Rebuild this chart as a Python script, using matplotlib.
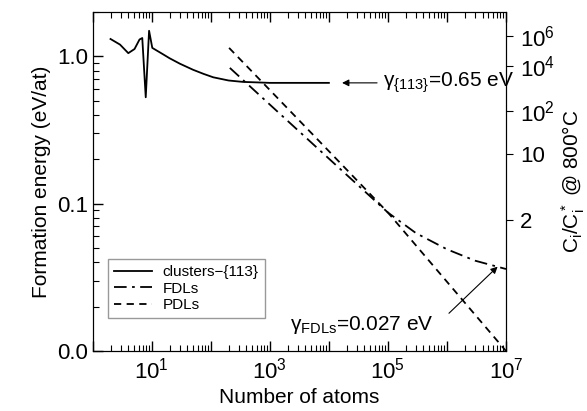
import matplotlib
matplotlib.use("Agg")
import matplotlib.pyplot as plt
from matplotlib.ticker import FixedLocator, FixedFormatter, LogLocator, NullFormatter

plt.rcParams["font.family"] = ["Liberation Sans", "DejaVu Sans"]
plt.rcParams["mathtext.fontset"] = "custom"
plt.rcParams["mathtext.rm"] = "Liberation Sans"
plt.rcParams["mathtext.it"] = "Liberation Sans:italic"

# clusters-{113}
n_clusters = [2.0, 2.9, 4.0, 5.1, 6.2, 6.9, 7.9, 9.0, 10.2, 15, 20, 30, 50, 75, 110, 200, 350, 600, 1000, 3000, 10000]
e_clusters = [1.31, 1.20, 1.05, 1.12, 1.30, 1.33, 0.527, 1.49, 1.14, 1.04, 0.97, 0.89, 0.81, 0.76, 0.72, 0.685, 0.67, 0.665, 0.66, 0.66, 0.66]

# FDLs
n_fdl = [210, 1e3, 1e4, 1e5, 3e5, 1e6, 3e6, 1e7]
e_fdl = [0.834, 0.47, 0.202, 0.087, 0.063, 0.049, 0.041, 0.036]

# PDLs
n_pdl = [204, 1e3, 1e4, 1e5, 1e6, 1e7]
e_pdl = [1.14, 0.59, 0.227, 0.087, 0.0295, 0.010]

# right axis: C_i/C_i* at 800C
rt_pos = [1.367, 0.865, 0.428, 0.2184, 0.0779]
rt_lab = [r"$\mathregular{10^6}$", r"$\mathregular{10^4}$", r"$\mathregular{10^2}$", "10", "2"]

fig = plt.figure(figsize=(5.87, 4.11), dpi=100)
ax = fig.add_axes([0.158, 0.146, 0.704, 0.825])

ax.plot(n_clusters, e_clusters, color="black", lw=1.3, label="clusters\u2212{113}")
ax.plot(n_fdl, e_fdl, color="black", lw=1.3, dashes=(7, 3, 1.5, 3), label="FDLs")
ax.plot(n_pdl, e_pdl, color="black", lw=1.3, dashes=(4, 3), label="PDLs")

ax.set_xscale("log")
ax.set_yscale("log")
ax.set_xlim(1, 1e7)
ax.set_ylim(0.01, 2.0)

ax.xaxis.set_major_locator(FixedLocator([10.0**k for k in range(0, 8)]))
ax.xaxis.set_major_formatter(FixedFormatter(["", r"$\mathregular{10^1}$", "", r"$\mathregular{10^3}$", "",
                                             r"$\mathregular{10^5}$", "", r"$\mathregular{10^7}$"]))
ax.xaxis.set_minor_locator(LogLocator(base=10, subs=range(2, 10), numticks=20))
ax.xaxis.set_minor_formatter(NullFormatter())
ax.yaxis.set_major_locator(FixedLocator([0.01, 0.1, 1.0]))
ax.yaxis.set_major_formatter(FixedFormatter(["0.0", "0.1", "1.0"]))
ax.yaxis.set_minor_locator(LogLocator(base=10, subs=range(2, 10), numticks=20))
ax.yaxis.set_minor_formatter(NullFormatter())

ax.tick_params(which="both", direction="in", top=True, right=False, labelsize=16)
ax.tick_params(which="major", length=7, width=1)
ax.tick_params(which="minor", length=4, width=0.8)
ax.tick_params(axis="x", pad=5)

ax.set_xlabel("Number of atoms", fontsize=15, labelpad=3)
ax.set_ylabel("Formation energy (eV/at)", fontsize=15)

ax2 = ax.twinx()
ax2.set_yscale("log")
ax2.set_ylim(ax.get_ylim())
ax2.yaxis.set_major_locator(FixedLocator(rt_pos))
ax2.yaxis.set_major_formatter(FixedFormatter(rt_lab))
ax2.yaxis.set_minor_locator(FixedLocator([]))
ax2.tick_params(direction="out", length=5, labelsize=16, pad=5)
ax2.set_ylabel(r"$\mathregular{C_i/C_i^*}$ @ 800°C", fontsize=15, labelpad=3)

leg = ax.legend(loc="lower left", bbox_to_anchor=(0.036, 0.097), fontsize=11,
                frameon=True, fancybox=False, handlelength=2.5, borderpad=0.4,
                labelspacing=0.15, handletextpad=0.7, borderaxespad=0)
leg.get_frame().set_edgecolor("gray")
leg.get_frame().set_linewidth(1)

ax.annotate("", xy=(1.5e4, 0.66), xytext=(7.3e4, 0.66),
            arrowprops=dict(arrowstyle="-|>", color="black", lw=0.8, mutation_scale=10))
ax.text(8.2e4, 0.66, "\u03b3$_{\\{113\\}}$=0.65 eV", fontsize=15, va="center", ha="left")

ax.annotate("", xy=(7.8e6, 0.0385), xytext=(1.0e6, 0.0175),
            arrowprops=dict(arrowstyle="-|>", color="black", lw=0.8, mutation_scale=10))
ax.text(2.2e3, 0.0151, "\u03b3$_{\\mathrm{FDLs}}$=0.027 eV", fontsize=15, va="center", ha="left")

fig.savefig("out.png", dpi=100)
